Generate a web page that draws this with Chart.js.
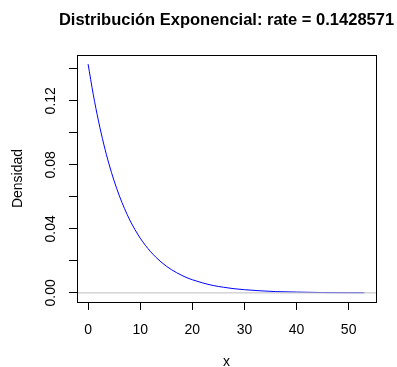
<!DOCTYPE html>
<html>
<head>
<meta charset="utf-8">
<script src="https://cdn.jsdelivr.net/npm/chart.js@4/dist/chart.umd.min.js"></script>
<style>
  html, body { margin: 0; padding: 0; background: #fff; }
  #wrap { width: 397px; height: 367px; }
</style>
</head>
<body>
<div id="wrap"><canvas id="myChart" width="397" height="367"></canvas></div>
<script>
'use strict';

const titleText = 'Distribución Exponencial: rate = 0.1428571';
const xLabel = 'x';
const yLabel = 'Densidad';

// values
const xValues = [0, 1, 2, 3, 4, 5, 6, 7, 8, 9, 10, 11, 12, 13, 14, 15, 16, 17, 18, 19, 20,
  22, 24, 26, 28, 30, 33, 36, 40, 45, 50, 53];
const densValues = [0.1429, 0.1238, 0.1073, 0.0930, 0.0806, 0.0699, 0.0606, 0.0526, 0.0455,
  0.0395, 0.0342, 0.0297, 0.0257, 0.0223, 0.0193, 0.0167, 0.0145, 0.0126, 0.0109, 0.0094,
  0.0082, 0.0062, 0.0046, 0.0035, 0.0026, 0.0020, 0.0013, 0.0008, 0.0005, 0.0002, 0.0001, 0.0001];

const xTicks = [0, 10, 20, 30, 40, 50];
const yTicks = [0, 0.02, 0.04, 0.06, 0.08, 0.10, 0.12, 0.14];
const yTickLabels = ['0.00', '', '0.04', '', '0.08', '', '0.12', ''];

let points = [];
for (let i = 0; i < xValues.length; i++) {
  points.push({ x: xValues[i], y: densValues[i] });
}

const fontFamily = '"Liberation Sans", Arial, sans-serif';

const framePlugin = {
  id: 'frame',
  afterDatasetsDraw(chart) {
    const ctx = chart.ctx;
    const a = chart.chartArea;
    const y0 = chart.scales.y.getPixelForValue(0);
    ctx.save();
    // horizontal reference line at 0
    ctx.strokeStyle = '#bebebe';
    ctx.lineWidth = 1;
    ctx.beginPath();
    ctx.moveTo(a.left, y0);
    ctx.lineTo(a.right, y0);
    ctx.stroke();
    // box
    ctx.strokeStyle = '#000';
    ctx.strokeRect(a.left + 0.5, a.top + 0.5, a.right - a.left, a.bottom - a.top);
    ctx.restore();
  },
  afterDraw(chart) {
    const ctx = chart.ctx;
    const a = chart.chartArea;
    const cx = (a.left + a.right) / 2;
    ctx.save();
    ctx.fillStyle = '#000';
    ctx.textAlign = 'center';
    ctx.textBaseline = 'middle';
    ctx.font = 'bold 16.5px ' + fontFamily;
    ctx.fillText(titleText, cx, 20);
    ctx.font = '14px ' + fontFamily;
    ctx.fillText(xLabel, cx, 362);
    ctx.translate(18, (a.top + a.bottom) / 2);
    ctx.rotate(-Math.PI / 2);
    ctx.fillText(yLabel, 0, 0);
    ctx.restore();
  }
};

const config = {
  type: 'scatter',
  data: {
    datasets: [{
      data: points,
      showLine: true,
      borderColor: '#0000ff',
      borderWidth: 1,
      pointRadius: 0,
      cubicInterpolationMode: 'monotone'
    }]
  },
  options: {
    responsive: false,
    animation: false,
    layout: { padding: { left: 0, top: 55, right: 21, bottom: 0 } },
    plugins: { legend: { display: false }, tooltip: { enabled: false } },
    scales: {
      x: {
        type: 'linear',
        min: -2.13,
        max: 55.25,
        afterBuildTicks: s => { s.ticks = xTicks.map(v => ({ value: v })); },
        afterFit: s => { s.height = 65; },
        grid: { display: true, drawOnChartArea: false, drawTicks: true, tickLength: 8, color: '#000' },
        border: { display: false },
        ticks: {
          color: '#000',
          padding: 12,
          maxRotation: 0,
          font: { family: fontFamily, size: 14 }
        }
      },
      y: {
        type: 'linear',
        min: -0.0057,
        max: 0.1486,
        afterBuildTicks: s => { s.ticks = yTicks.map(v => ({ value: v })); },
        afterFit: s => { s.width = 77; },
        grid: { display: true, drawOnChartArea: false, drawTicks: true, tickLength: 8, color: '#000' },
        border: { display: false },
        ticks: {
          color: '#000',
          padding: 4,
          crossAlign: 'center',
          minRotation: 90,
          maxRotation: 90,
          autoSkip: false,
          font: { family: fontFamily, size: 14 },
          callback: (v, i) => yTickLabels[i]
        }
      }
    }
  },
  plugins: [framePlugin]
};

const canvasChart = document.getElementById('myChart');
const myChart = new Chart(canvasChart, config);
</script>
</body>
</html>
